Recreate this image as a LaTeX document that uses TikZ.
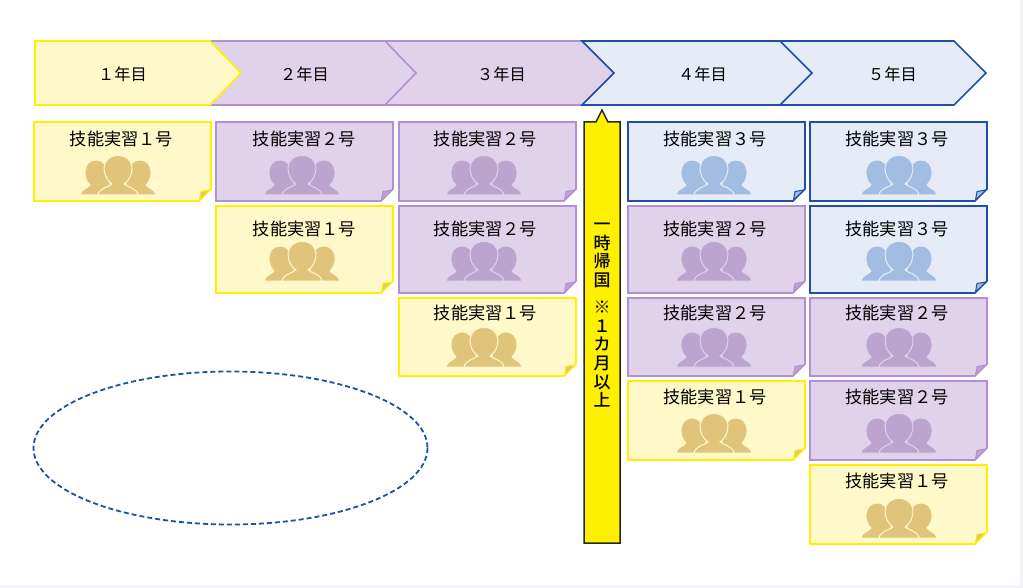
\documentclass[tikz,border=0pt]{standalone}
\usepackage{fontspec}
\setmainfont{Noto Sans CJK JP}
\newfontfamily\mediumjp{Noto Sans CJK JP Medium}
\usepackage{xcolor}
\definecolor{yline}{HTML}{FFF000}
\definecolor{yfill}{HTML}{FFF9C9}
\definecolor{yicon}{HTML}{E0C47C}
\definecolor{pline}{HTML}{B48FD2}
\definecolor{pfill}{HTML}{E0D2EA}
\definecolor{picon}{HTML}{BDA4CE}
\definecolor{bline}{HTML}{1E50A8}
\definecolor{bfill}{HTML}{E6ECF7}
\definecolor{bicon}{HTML}{A3BDE2}
\definecolor{edgeband}{HTML}{F3F5F9}
\tikzset{
  yearlabel/.style={font=\fontsize{16.2}{18}\selectfont,inner sep=0pt,anchor=center},
  cardlabel/.style={font=\fontsize{17.2}{20}\selectfont,inner sep=0pt,anchor=center},
  people/.pic={
    % 後ろの二人
    \path[pic actions] (-38,0) .. controls (-37,-6) and (-31,-6) .. (-28,-10) .. controls (-36,-17) and (-35,-35) .. (-22,-35) .. controls (-14,-35) and (-10,-28) .. (-8,-20) -- (-8,0) -- cycle;
    \path[pic actions] (38,0) .. controls (37,-6) and (31,-6) .. (28,-10) .. controls (36,-17) and (35,-35) .. (22,-35) .. controls (14,-35) and (10,-28) .. (8,-20) -- (8,0) -- cycle;
    % 手前の一人
    \path[pic actions] (-20,0) .. controls (-19,-7) and (-9,-8) .. (-6,-11) .. controls (-17,-18) and (-18,-39.5) .. (0,-39.5) .. controls (18,-39.5) and (17,-18) .. (6,-11) .. controls (9,-8) and (19,-7) .. (20,0) -- cycle;
  }
}
\begin{document}
\begin{tikzpicture}[x=1pt,y=-1pt]
        \useasboundingbox (0,0) rectangle (1023,588);
        \newcommand{\numy}{１}
        \newcommand{\nump}{２}
        \newcommand{\numb}{３}
        % カード: 名前, 左, 上, 下, 文字x, 文字y, 人x, 人y, 色
        \newcommand{\card}[9]{
          \pgfmathsetmacro{\cardr}{#2+177}
          \draw[#9line,fill=#9fill,line width=1.6] (#2,#3) -- (\cardr,#3) -- (\cardr,#4-12) -- (\cardr-12,#4) -- (#2,#4) -- cycle;
          \draw[#9line,fill=#9icon,line width=1] (\cardr-1,#4-11) -- (\cardr-10,#4-9.5) -- (\cardr-11.5,#4-1) -- cycle;
          \node[cardlabel] (#1) at (#5,#6) {技能実習\csname num#9\endcsname 号};
          \pic[fill=#9icon,draw=#9fill,line width=1] at (#7,#8) {people};
        }

        % 背景
        \fill[edgeband] (1020,0) rectangle (1023,588);
        \fill[edgeband] (0,585) rectangle (1023,588);

        % 年の矢印
        \draw[bline,fill=bfill,line width=1.6] (780,41) -- (954,41) -- (986,73) -- (954,105) -- (780,105) -- cycle;
        \draw[pline,fill=pfill,line width=1.6] (385,41) -- (582,41) -- (614,73) -- (582,105) -- (385,105) -- cycle;
        \draw[bline,fill=bfill,line width=1.6] (582,41) -- (780,41) -- (812,73) -- (780,105) -- (582,105) -- (614,73) -- cycle;
        \draw[pline,fill=pfill,line width=1.6] (210,41) -- (385,41) -- (416,73) -- (385,105) -- (210,105) -- cycle;
        \draw[yline,fill=yfill,line width=1.6] (35,41) -- (210,41) -- (241,73) -- (210,105) -- (35,105) -- cycle;
        \node[yearlabel] (year1) at (122.5,74) {１年目};
        \node[yearlabel] (year2) at (304.5,74) {２年目};
        \node[yearlabel] (year3) at (501.5,74) {３年目};
        \node[yearlabel] (year4) at (702.5,74) {４年目};
        \node[yearlabel] (year5) at (892.5,74) {５年目};

        % 1年目
        \card{card11}{34}{122}{201}{121.5}{139}{118}{195}{y}
        % 2年目
        \card{card21}{216}{122}{201}{304.5}{139}{302}{195}{p}
        \card{card22}{216}{206}{293}{304.5}{229}{302}{281}{y}
        % 3年目
        \card{card31}{399}{122}{201}{485.5}{139}{484}{195}{p}
        \card{card32}{399}{206}{293}{485.5}{229}{484}{281}{p}
        \card{card33}{399}{298}{376}{485.5}{313}{484}{367}{y}
        % 4年目
        \card{card41}{628}{122}{201}{715}{139}{714}{195}{b}
        \card{card42}{628}{206}{293}{715}{229}{714}{281}{p}
        \card{card43}{628}{298}{376}{715}{313}{714}{367}{p}
        \card{card44}{628}{381}{460}{715}{397}{714}{453}{y}
        % 5年目
        \card{card51}{810}{122}{201}{897}{139}{899}{195}{b}
        \card{card52}{810}{206}{293}{897}{229}{899}{281}{b}
        \card{card53}{810}{298}{376}{897}{313}{899}{367}{p}
        \card{card54}{810}{381}{460}{897}{397}{899}{453}{p}
        \card{card55}{810}{465}{544}{897}{481}{899}{538}{y}

        % 一時帰国
        \draw[fill=yline,draw=black!85,line width=1.5] (584,122) -- (596,122) -- (602,110) -- (608,122) -- (620,122) -- (620,543) -- (584,543) -- cycle;
        \node[font=\fontsize{17}{18.6}\mediumjp,align=center,inner sep=0pt,anchor=north] (return) at (602,223) {一\\時\\帰\\国\\[8.5]※\\１\\カ\\月\\以\\上};

        % 破線の楕円
        \draw[bline,dash pattern=on 5pt off 3pt,line width=1.8] (230.5,448) ellipse (197 and 76.5);
\end{tikzpicture}
\end{document}
